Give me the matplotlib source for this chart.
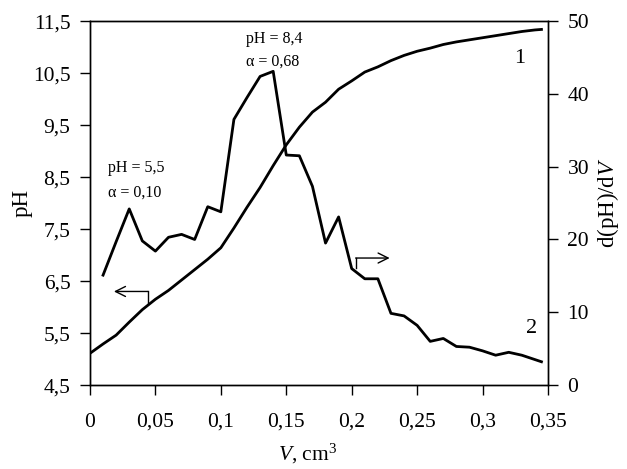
import numpy as np
import matplotlib
matplotlib.use("Agg")
import matplotlib.pyplot as plt
from matplotlib.ticker import FuncFormatter

plt.rcParams['font.family'] = ['Liberation Serif', 'DejaVu Serif']
plt.rcParams['mathtext.fontset'] = 'custom'
plt.rcParams['mathtext.rm'] = 'Liberation Serif'
plt.rcParams['mathtext.it'] = 'Liberation Serif:italic'

# curve 1: pH vs titrant volume
v_ph = [0.00, 0.01, 0.02, 0.03, 0.04, 0.05, 0.06, 0.07, 0.08, 0.09, 0.10, 0.11,
        0.12, 0.13, 0.14, 0.15, 0.16, 0.17, 0.18, 0.19, 0.20, 0.21, 0.22, 0.23,
        0.24, 0.25, 0.26, 0.27, 0.28, 0.29, 0.30, 0.31, 0.32, 0.33, 0.34, 0.345]
ph = [5.11, 5.29, 5.46, 5.71, 5.95, 6.15, 6.32, 6.52, 6.72, 6.92, 7.14, 7.52,
      7.92, 8.30, 8.72, 9.12, 9.46, 9.75, 9.94, 10.19, 10.35, 10.52, 10.62, 10.74,
      10.84, 10.92, 10.98, 11.05, 11.10, 11.14, 11.18, 11.22, 11.26, 11.30, 11.33, 11.34]

# curve 2: first derivative d(pH)/dV
v_d = [0.01, 0.02, 0.03, 0.04, 0.05, 0.06, 0.07, 0.08, 0.09, 0.10, 0.11, 0.12,
       0.13, 0.14, 0.15, 0.16, 0.17, 0.18, 0.19, 0.20, 0.21, 0.22, 0.23, 0.24,
       0.25, 0.26, 0.27, 0.28, 0.29, 0.30, 0.31, 0.32, 0.33, 0.345]
dph = [15.1, 19.7, 24.2, 19.8, 18.4, 20.3, 20.7, 20.0, 24.5, 23.8, 36.5, 39.5,
       42.4, 43.1, 31.6, 31.5, 27.3, 19.5, 23.1, 16.0, 14.6, 14.6, 9.85, 9.5,
       8.2, 6.0, 6.4, 5.3, 5.2, 4.7, 4.1, 4.5, 4.1, 3.2]

x_ticks = [0, 0.05, 0.1, 0.15, 0.2, 0.25, 0.3, 0.35]
ph_ticks = [4.5, 5.5, 6.5, 7.5, 8.5, 9.5, 10.5, 11.5]
d_ticks = [0, 10, 20, 30, 40, 50]


def comma(x, pos):
    s = ('%.2f' % x).rstrip('0').rstrip('.')
    return s.replace('.', ',')


fig = plt.figure(figsize=(6.27, 4.69), dpi=100)
ax = fig.add_axes([0.1435, 0.179, 0.7305, 0.776])
ax2 = ax.twinx()

ax.plot(v_ph, ph, color='black', lw=2.0)
ax2.plot(v_d, dph, color='black', lw=2.0)

ax.set_xlim(0, 0.35)
ax.set_ylim(4.5, 11.5)
ax2.set_ylim(0, 50)
ax.set_xticks(x_ticks)
ax.set_yticks(ph_ticks)
ax2.set_yticks(d_ticks)
ax.xaxis.set_major_formatter(FuncFormatter(comma))
ax.yaxis.set_major_formatter(FuncFormatter(lambda y, p: ('%.1f' % y).replace('.', ',')))

ax.tick_params(axis='x', direction='out', length=7, width=1, labelsize=15.5, pad=13)
ax.tick_params(axis='y', direction='out', length=7, width=1, labelsize=15.5, pad=7)
ax2.tick_params(axis='y', direction='out', length=7, width=1, labelsize=15.5, pad=7)
for a in (ax, ax2):
    for s in a.spines.values():
        s.set_linewidth(1.0)

ax.set_ylabel('pH', fontsize=16.5, labelpad=0)
ax2.set_ylabel(r'd(pH)/d$V$', fontsize=16.5, labelpad=4)
ax.set_xlabel(r'$V$, cm$^3$', fontsize=15.5)
ax.xaxis.set_label_coords(0.475, -0.157)

# annotations
ax.text(0.0137, 8.6, 'pH = 5,5', fontsize=11.5)
ax.text(0.0137, 8.13, 'α = 0,10', fontsize=11.5)
ax.text(0.1195, 11.08, 'pH = 8,4', fontsize=11.5)
ax.text(0.1195, 10.65, 'α = 0,68', fontsize=11.5)
ax.text(0.324, 10.7, '1', fontsize=16)
ax.text(0.333, 5.5, '2', fontsize=16)

# axis pointer arrows
ax.plot([0.0443, 0.0443], [6.08, 6.30], color='black', lw=1)
ax.annotate('', xy=(0.0183, 6.30), xytext=(0.0443, 6.30),
            arrowprops=dict(arrowstyle='->', color='black', lw=1,
                            mutation_scale=18, shrinkA=0, shrinkB=0))
ax2.plot([0.203, 0.203], [16.1, 17.45], color='black', lw=1)
ax2.annotate('', xy=(0.229, 17.45), xytext=(0.203, 17.45),
             arrowprops=dict(arrowstyle='->', color='black', lw=1,
                             mutation_scale=18, shrinkA=0, shrinkB=0))

fig.savefig('out.png', dpi=100)
